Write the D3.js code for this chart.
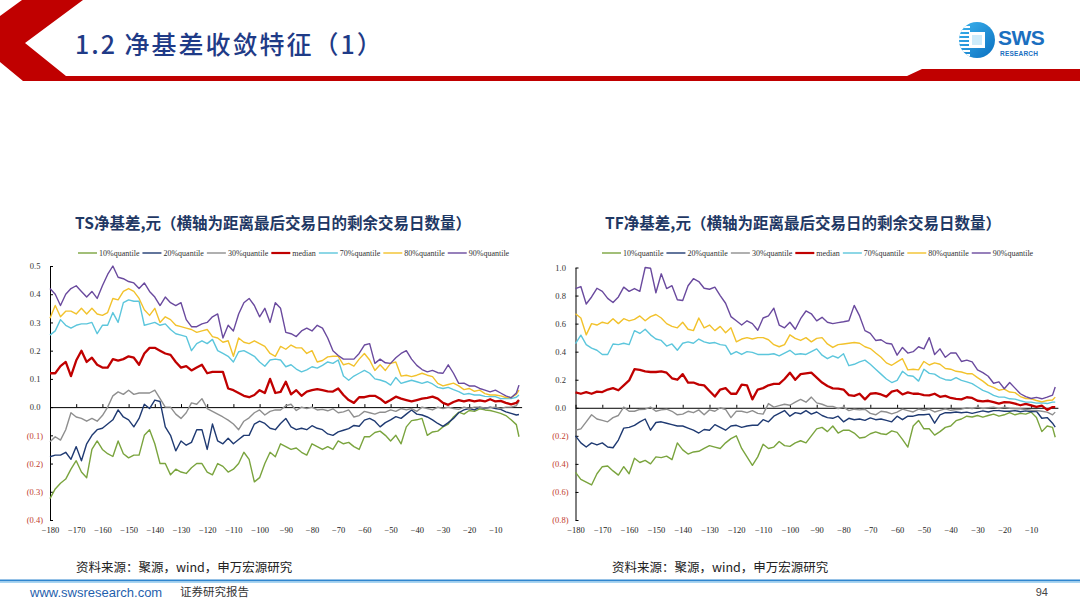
<!DOCTYPE html>
<html><head><meta charset="utf-8">
<script src="https://cdn.jsdelivr.net/npm/d3@7/dist/d3.min.js"></script>
<style>
html,body{margin:0;padding:0;background:#fff;}
svg{display:block;}
</style></head>
<body>
<svg id="c" width="1080" height="608"></svg>
<script>
// ---------- DATA ----------
const days = d3.range(-180, 0, 2).concat([-1]);
const seriesNames = ["10%quantile","20%quantile","30%quantile","median","70%quantile","80%quantile","90%quantile"];
const seriesColors = ["#7AA43E","#1F3A72","#8F8F8F","#C00000","#5CC6DC","#F2C22C","#6A4A9E"];
const xTickValues = d3.range(-180, 0, 10);
const tsYTicks = [0.5,0.4,0.3,0.2,0.1,0.0,-0.1,-0.2,-0.3,-0.4];
const tfYTicks = [1.0,0.8,0.6,0.4,0.2,0.0,-0.2,-0.4,-0.6,-0.8];

const tsQ10 = [-0.324,-0.29,-0.27,-0.255,-0.22,-0.19,-0.23,-0.25,-0.15,-0.12,-0.15,-0.165,-0.175,-0.12,-0.165,-0.18,-0.17,-0.17,-0.1,-0.08,-0.13,-0.2,-0.2,-0.24,-0.22,-0.23,-0.235,-0.215,-0.2,-0.2,-0.23,-0.24,-0.2,-0.21,-0.23,-0.22,-0.2,-0.16,-0.185,-0.265,-0.25,-0.2,-0.16,-0.176,-0.13,
 -0.14,-0.15,-0.145,-0.16,-0.17,-0.13,-0.14,-0.15,-0.14,-0.15,-0.12,-0.13,-0.125,-0.14,-0.15,-0.105,-0.105,-0.09,-0.085,-0.1,-0.12,-0.1,-0.13,-0.07,-0.048,-0.045,-0.04,-0.1,-0.088,-0.085,-0.07,-0.06,-0.035,-0.018,-0.025,-0.012,-0.015,-0.006,-0.01,-0.012,-0.017,-0.022,-0.03,-0.045,-0.062,-0.105];
const tsQ20 = [-0.176,-0.17,-0.17,-0.16,-0.185,-0.14,-0.19,-0.13,-0.1,-0.08,-0.075,-0.06,-0.045,-0.01,-0.035,-0.045,-0.07,-0.04,0.01,-0.005,0.025,0.02,-0.07,-0.1,-0.155,-0.12,-0.135,-0.125,-0.08,-0.08,-0.15,-0.06,-0.12,-0.13,-0.11,-0.13,-0.115,-0.1,-0.1,-0.06,-0.05,-0.058,-0.075,-0.08,-0.058,
 -0.04,-0.07,-0.08,-0.075,-0.08,-0.066,-0.075,-0.08,-0.095,-0.1,-0.088,-0.082,-0.076,-0.065,-0.068,-0.046,-0.04,-0.05,-0.07,-0.055,-0.045,-0.034,-0.04,-0.025,-0.01,-0.025,-0.028,-0.035,-0.045,-0.058,-0.068,-0.055,-0.04,-0.02,-0.01,-0.005,-0.01,0.0,-0.005,0.0,-0.005,-0.008,-0.017,-0.022,-0.028,-0.026];
const tsQ30 = [-0.123,-0.105,-0.117,-0.08,-0.02,-0.035,-0.04,-0.05,-0.04,-0.05,-0.03,0.0,0.04,0.054,0.045,0.06,0.045,0.05,0.05,0.05,0.06,0.03,0.0,0.0,-0.025,-0.04,-0.02,0.015,0.01,0.03,-0.005,-0.015,-0.025,-0.035,-0.046,-0.06,-0.08,-0.05,-0.038,-0.02,-0.01,-0.028,-0.015,-0.01,-0.01,
 0.005,0.01,-0.012,0.0,-0.005,0.0,-0.01,-0.008,-0.013,-0.006,-0.02,-0.017,-0.01,-0.035,-0.03,-0.015,-0.02,-0.025,-0.018,-0.018,-0.01,-0.015,-0.005,-0.01,-0.005,-0.015,0.0,-0.005,-0.01,0.0,-0.005,0.0,-0.005,-0.008,0.0,-0.005,0.0,0.0,-0.003,-0.002,0.0,-0.005,0.0,0.0,0.005,0.02];
const tsMedian = [0.12,0.12,0.145,0.16,0.11,0.165,0.20,0.16,0.175,0.15,0.14,0.14,0.17,0.165,0.17,0.18,0.175,0.15,0.19,0.21,0.21,0.20,0.19,0.185,0.16,0.14,0.145,0.13,0.14,0.15,0.12,0.125,0.125,0.125,0.066,0.06,0.05,0.04,0.035,0.043,0.06,0.05,0.10,0.05,0.054,
 0.09,0.045,0.06,0.04,0.055,0.06,0.064,0.06,0.056,0.055,0.066,0.043,0.025,0.015,0.035,0.035,0.04,0.04,0.03,0.015,0.025,0.037,0.03,0.025,0.02,0.025,0.03,0.033,0.037,0.03,0.015,0.008,0.018,0.025,0.02,0.025,0.02,0.024,0.02,0.028,0.02,0.022,0.015,0.01,0.015,0.025];
const tsQ70 = [0.255,0.27,0.31,0.29,0.28,0.29,0.295,0.295,0.30,0.26,0.29,0.29,0.335,0.30,0.37,0.38,0.375,0.375,0.29,0.295,0.30,0.29,0.295,0.275,0.26,0.255,0.25,0.20,0.225,0.235,0.225,0.24,0.20,0.19,0.18,0.16,0.196,0.20,0.19,0.18,0.16,0.145,0.167,0.17,0.167,
 0.143,0.15,0.135,0.125,0.132,0.143,0.138,0.148,0.16,0.155,0.167,0.11,0.095,0.11,0.12,0.13,0.12,0.10,0.096,0.09,0.078,0.105,0.084,0.09,0.095,0.09,0.084,0.09,0.082,0.07,0.066,0.07,0.062,0.055,0.045,0.048,0.043,0.043,0.038,0.037,0.037,0.03,0.03,0.03,0.035,0.043];
const tsQ80 = [0.315,0.36,0.32,0.34,0.34,0.33,0.35,0.33,0.35,0.33,0.325,0.335,0.385,0.38,0.41,0.42,0.41,0.385,0.345,0.325,0.35,0.30,0.32,0.31,0.29,0.285,0.28,0.275,0.265,0.27,0.275,0.25,0.245,0.23,0.235,0.18,0.245,0.23,0.225,0.235,0.225,0.215,0.19,0.18,0.215,
 0.205,0.22,0.21,0.21,0.19,0.20,0.16,0.165,0.178,0.18,0.18,0.15,0.155,0.145,0.17,0.19,0.167,0.13,0.15,0.13,0.155,0.16,0.11,0.113,0.108,0.113,0.12,0.113,0.108,0.084,0.075,0.08,0.085,0.075,0.062,0.066,0.056,0.06,0.048,0.043,0.043,0.04,0.034,0.034,0.045,0.06];
const tsQ90 = [0.42,0.40,0.36,0.40,0.42,0.43,0.41,0.39,0.41,0.385,0.43,0.47,0.50,0.46,0.455,0.445,0.44,0.42,0.44,0.41,0.39,0.36,0.39,0.37,0.36,0.37,0.31,0.285,0.285,0.295,0.30,0.32,0.33,0.245,0.29,0.27,0.33,0.37,0.385,0.36,0.32,0.35,0.30,0.37,0.35,
 0.265,0.26,0.25,0.27,0.28,0.27,0.29,0.28,0.245,0.20,0.183,0.17,0.17,0.17,0.19,0.22,0.225,0.155,0.17,0.157,0.155,0.175,0.19,0.20,0.17,0.148,0.133,0.125,0.13,0.122,0.12,0.15,0.12,0.084,0.085,0.075,0.075,0.066,0.06,0.054,0.06,0.05,0.04,0.033,0.05,0.078];

const tfQ10 = [-0.46,-0.51,-0.53,-0.55,-0.47,-0.42,-0.415,-0.45,-0.48,-0.42,-0.47,-0.36,-0.39,-0.375,-0.40,-0.35,-0.355,-0.345,-0.37,-0.25,-0.30,-0.33,-0.315,-0.31,-0.29,-0.27,-0.28,-0.29,-0.25,-0.22,-0.2,-0.29,-0.35,-0.41,-0.35,-0.26,-0.29,-0.28,-0.24,-0.27,-0.275,-0.25,-0.235,-0.25,
 -0.2,-0.15,-0.14,-0.17,-0.13,-0.18,-0.16,-0.16,-0.18,-0.215,-0.21,-0.185,-0.172,-0.185,-0.19,-0.165,-0.175,-0.225,-0.28,-0.13,-0.09,-0.15,-0.15,-0.195,-0.17,-0.14,-0.13,-0.092,-0.08,-0.06,-0.066,-0.055,-0.067,-0.055,-0.045,-0.06,-0.05,-0.035,-0.05,-0.04,-0.045,-0.031,-0.07,-0.17,-0.13,-0.14,-0.21];
const tfQ20 = [-0.2,-0.25,-0.28,-0.25,-0.265,-0.25,-0.28,-0.285,-0.23,-0.145,-0.14,-0.126,-0.1,-0.08,-0.16,-0.105,-0.1,-0.11,-0.12,-0.13,-0.13,-0.145,-0.16,-0.18,-0.155,-0.16,-0.12,-0.14,-0.16,-0.13,-0.125,-0.14,-0.13,-0.125,-0.125,-0.085,-0.1,-0.06,-0.04,-0.02,-0.06,-0.035,-0.043,-0.02,
 -0.045,-0.03,-0.055,-0.07,-0.075,-0.06,-0.1,-0.075,-0.085,-0.08,-0.09,-0.072,-0.085,-0.08,-0.09,-0.1,-0.06,-0.085,-0.06,-0.06,-0.05,-0.05,-0.045,-0.11,-0.05,-0.035,-0.035,-0.03,-0.035,-0.031,-0.04,-0.031,-0.022,-0.03,-0.02,-0.02,-0.025,-0.025,-0.02,-0.028,-0.022,-0.028,-0.025,-0.075,-0.07,-0.11,-0.138];
const tfQ30 = [-0.16,-0.15,-0.1,-0.05,-0.08,-0.09,-0.1,-0.07,-0.055,0.005,-0.025,-0.025,-0.012,-0.01,0.005,-0.025,-0.015,-0.01,-0.025,-0.05,-0.045,-0.025,-0.035,-0.015,-0.05,-0.015,-0.025,0.0,-0.012,-0.07,-0.025,-0.025,-0.035,-0.02,-0.04,-0.045,0.03,0.005,0.015,0.025,0.018,0.04,0.06,0.04,
 0.076,0.035,0.025,0.01,0.01,-0.005,0.005,-0.02,-0.01,-0.015,-0.01,-0.04,-0.05,-0.025,-0.03,-0.043,-0.031,-0.01,-0.02,-0.03,-0.01,-0.018,-0.01,-0.03,-0.019,-0.008,-0.018,-0.012,-0.01,0.0,-0.005,0.005,-0.005,0.0,0.005,-0.005,0.004,-0.003,-0.007,-0.007,-0.012,-0.018,-0.019,-0.025,-0.031,-0.05,-0.031];
const tfMedian = [0.11,0.1,0.112,0.1,0.115,0.112,0.13,0.14,0.125,0.16,0.195,0.275,0.27,0.26,0.255,0.255,0.26,0.25,0.21,0.2,0.24,0.18,0.18,0.165,0.16,0.12,0.08,0.13,0.14,0.1,0.1,0.165,0.16,0.06,0.13,0.14,0.16,0.17,0.17,0.205,0.25,0.2,0.24,0.245,
 0.25,0.215,0.18,0.155,0.138,0.136,0.13,0.09,0.085,0.1,0.06,0.1,0.105,0.095,0.08,0.115,0.125,0.095,0.11,0.1,0.1,0.09,0.088,0.1,0.078,0.085,0.07,0.064,0.06,0.075,0.07,0.05,0.045,0.05,0.04,0.03,0.04,0.038,0.03,0.018,0.028,0.017,0.006,0.015,-0.015,0.005,0.005];
const tfQ70 = [0.458,0.518,0.45,0.425,0.41,0.38,0.38,0.455,0.45,0.46,0.45,0.55,0.53,0.56,0.52,0.49,0.48,0.44,0.455,0.41,0.46,0.47,0.46,0.49,0.47,0.46,0.465,0.45,0.445,0.38,0.40,0.38,0.40,0.395,0.38,0.38,0.38,0.385,0.37,0.39,0.41,0.38,0.385,0.38,
 0.40,0.42,0.375,0.35,0.37,0.355,0.385,0.30,0.31,0.327,0.34,0.31,0.275,0.24,0.205,0.18,0.196,0.26,0.23,0.225,0.19,0.275,0.245,0.24,0.215,0.2,0.196,0.215,0.195,0.185,0.172,0.148,0.124,0.11,0.088,0.076,0.076,0.064,0.062,0.05,0.04,0.04,0.033,0.035,0.03,0.04,0.04];
const tfQ80 = [0.67,0.64,0.52,0.60,0.59,0.61,0.60,0.635,0.60,0.635,0.62,0.63,0.655,0.62,0.65,0.665,0.64,0.60,0.58,0.57,0.61,0.56,0.55,0.64,0.57,0.59,0.55,0.58,0.535,0.57,0.47,0.49,0.50,0.49,0.50,0.50,0.485,0.45,0.435,0.45,0.52,0.495,0.48,0.50,
 0.47,0.495,0.50,0.455,0.43,0.45,0.455,0.46,0.465,0.46,0.435,0.422,0.39,0.36,0.32,0.303,0.327,0.35,0.27,0.275,0.27,0.33,0.305,0.32,0.31,0.28,0.275,0.26,0.255,0.243,0.243,0.215,0.19,0.16,0.145,0.125,0.133,0.112,0.108,0.08,0.066,0.064,0.052,0.042,0.052,0.055,0.076];
const tfQ90 = [0.85,0.864,0.74,0.79,0.852,0.83,0.78,0.75,0.79,0.86,0.83,0.85,0.83,1.0,0.995,0.82,0.955,0.85,0.87,0.77,0.765,0.87,0.92,0.90,0.852,0.845,0.86,0.80,0.745,0.65,0.62,0.59,0.62,0.60,0.553,0.64,0.655,0.71,0.59,0.57,0.61,0.56,0.635,0.69,
 0.67,0.62,0.645,0.61,0.60,0.607,0.613,0.62,0.73,0.655,0.55,0.53,0.48,0.485,0.46,0.455,0.375,0.43,0.39,0.40,0.435,0.42,0.50,0.38,0.42,0.36,0.39,0.39,0.33,0.34,0.327,0.27,0.25,0.225,0.175,0.185,0.136,0.18,0.14,0.10,0.08,0.066,0.074,0.064,0.076,0.09,0.148];

const tsTitle = "TS净基差,元（横轴为距离最后交易日的剩余交易日数量）";
const tfTitle = "TF净基差,元（横轴为距离最后交易日的剩余交易日数量）";
const pageTitle = "1.2 净基差收敛特征（1）";
const sourceText = "资料来源：聚源，wind，申万宏源研究";

// ---------- DRAW ----------
const svg = d3.select("#c");
const defs = svg.append("defs");

// header red shape
svg.append("path")
  .attr("d","M22,0 L83,0 L25,43 L66,76 L907,76 L922,69 L1080,69 L1080,81 L23,81 L0,62 L0,16 Z")
  .attr("fill","#C00000");

svg.append("text").attr("x",75).attr("y",54)
  .attr("font-family","'Noto Sans CJK SC'").attr("font-size",25).attr("font-weight",500)
  .attr("letter-spacing",2).attr("fill","#1F3B87").text(pageTitle);

// logo
const lg = defs.append("linearGradient").attr("id","lg").attr("x1","0").attr("y1","0").attr("x2","1").attr("y2","1");
lg.append("stop").attr("offset","0").attr("stop-color","#3DB4EE");
lg.append("stop").attr("offset","1").attr("stop-color","#0A6FC0");
defs.append("clipPath").attr("id","lc").append("circle").attr("cx",977).attr("cy",40).attr("r",18);
const logo = svg.append("g");
logo.append("circle").attr("cx",977).attr("cy",40).attr("r",18).attr("fill","url(#lg)");
const lgc = logo.append("g").attr("clip-path","url(#lc)");
[26,30,34,38,42,46,50,54].forEach(yy=>{
  lgc.append("rect").attr("x",958).attr("y",yy).attr("width",12).attr("height",2).attr("fill","#fff");
});
lgc.append("rect").attr("x",969).attr("y",32).attr("width",16).attr("height",16).attr("fill","#fff");
lgc.append("rect").attr("x",972).attr("y",35).attr("width",10).attr("height",10).attr("fill","#CDEBFA");
logo.append("text").attr("x",998).attr("y",45).attr("font-family","'Liberation Sans', Arial").attr("font-weight","bold")
  .attr("font-size",21).attr("fill","#1B6FC0").attr("letter-spacing",-0.5).text("SWS");
logo.append("text").attr("x",1000).attr("y",56).attr("font-family","'Liberation Sans', Arial").attr("font-weight","bold")
  .attr("font-size",6.5).attr("fill","#1B6FC0").attr("letter-spacing",0.2).text("RESEARCH");

function fmtTick(v){
  const s = d3.format(".1f")(Math.abs(v));
  return v < -1e-9 ? "(" + s + ")" : s;
}

function drawChart(o){
  const x = d3.scaleLinear().domain([-180, 0]).range([o.x0, o.x1]);
  const y = d3.scaleLinear().domain([o.yTicks[o.yTicks.length-1], o.yTicks[0]]).range([o.yBot, o.yTop]);
  const g = svg.append("g");

  // title
  g.append("text").attr("x",o.titleX).attr("y",229).attr("text-anchor","middle")
    .attr("font-family","'Noto Sans CJK SC'").attr("font-weight","bold").attr("font-size",15.5)
    .attr("fill","#1F3864").text(o.title);

  // legend
  const leg = g.append("g").attr("transform",`translate(${o.legendX},253)`);
  let cx = 0;
  seriesNames.forEach((n,i)=>{
    leg.append("line").attr("x1",cx).attr("x2",cx+19).attr("y1",0).attr("y2",0)
      .attr("stroke",seriesColors[i]).attr("stroke-width", i===3?2.2:1.4);
    const t = leg.append("text").attr("x",cx+21).attr("y",0).attr("dy","0.33em")
      .attr("font-family","'Liberation Serif', 'Times New Roman', serif").attr("font-size",8)
      .attr("fill","#333").text(n);
    cx += 21 + t.node().getComputedTextLength() + 3;
  });

  // y axis
  const ya = g.append("g").attr("transform",`translate(${o.x0},0)`)
    .call(d3.axisLeft(y).tickValues(o.yTicks).tickSize(-3).tickSizeOuter(0).tickPadding(7).tickFormat(fmtTick));
  ya.select(".domain").attr("stroke","#000");
  ya.selectAll(".tick line").attr("stroke","#000");
  ya.selectAll(".tick text")
    .attr("font-family","'Liberation Serif', 'Times New Roman', serif").attr("font-size",8.5)
    .attr("fill", d => d < -1e-9 ? "#C0392B" : "#333")
    .attr("dx", d => d < -1e-9 ? 0 : -2.6);

  // x axis line at zero with tick marks
  const xa = g.append("g").attr("transform",`translate(0,${y(0)})`)
    .call(d3.axisBottom(x).tickValues(xTickValues).tickSize(-3).tickSizeOuter(0).tickFormat(""));
  xa.select(".domain").attr("stroke","#000");
  xa.selectAll(".tick line").attr("stroke","#000");

  // x labels at the bottom
  const xl = g.append("g").attr("transform",`translate(0,${o.yBot})`)
    .call(d3.axisBottom(x).tickValues(xTickValues).tickSize(0).tickPadding(7).tickFormat(d3.format("d")));
  xl.select(".domain").remove();
  xl.selectAll(".tick text")
    .attr("font-family","'Liberation Serif', 'Times New Roman', serif").attr("font-size",8.5).attr("fill","#222");

  // series
  const line = d3.line().x((d,i)=>x(days[i])).y(d=>y(d));
  o.series.forEach((s,i)=>{
    g.append("path").datum(s).attr("d",line).attr("fill","none")
      .attr("stroke",seriesColors[i]).attr("stroke-width", i===3?2.3:1.4)
      .attr("stroke-linejoin","round");
  });
}

drawChart({x0:50, x1:521.6, yTop:266, yBot:520, yTicks:tsYTicks, titleX:273, legendX:78, title:tsTitle,
  series:[tsQ10,tsQ20,tsQ30,tsMedian,tsQ70,tsQ80,tsQ90]});
drawChart({x0:575.5, x1:1057.9, yTop:267.5, yBot:520, yTicks:tfYTicks, titleX:803, legendX:602, title:tfTitle,
  series:[tfQ10,tfQ20,tfQ30,tfMedian,tfQ70,tfQ80,tfQ90]});

// sources
[76, 612].forEach(xx=>{
  svg.append("text").attr("x",xx).attr("y",572).attr("font-family","'Noto Sans CJK SC'")
    .attr("font-size",12.5).attr("fill","#222").text(sourceText);
});

// footer
svg.append("rect").attr("x",0).attr("y",579.5).attr("width",1080).attr("height",2).attr("fill","#2F86CF");
svg.append("rect").attr("x",0).attr("y",581.5).attr("width",1080).attr("height",1.5).attr("fill","#A8D5F2");
svg.append("text").attr("x",30).attr("y",597).attr("font-family","'Liberation Sans', Arial")
  .attr("font-size",13).attr("fill","#1F5FAD").text("www.swsresearch.com");
svg.append("text").attr("x",180).attr("y",596).attr("font-family","'Noto Sans CJK SC'")
  .attr("font-size",11.5).attr("fill","#333").text("证券研究报告");
svg.append("text").attr("x",1048).attr("y",596).attr("text-anchor","end").attr("font-family","'Liberation Sans', Arial")
  .attr("font-size",11).attr("fill","#444").text("94");
</script>
</body></html>
